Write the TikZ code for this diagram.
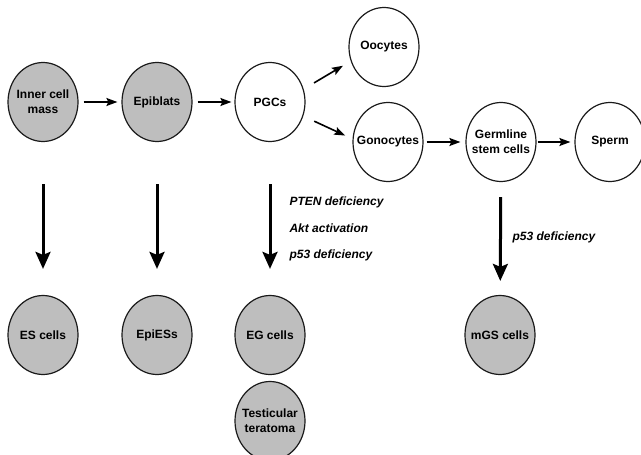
\documentclass[tikz,border=0pt]{standalone}
\usepackage{tikz}
\usetikzlibrary{shapes.geometric, arrows.meta}
\usepackage{xcolor}
\usepackage{fontspec}
\setmainfont{Liberation Sans}
\definecolor{CellGray}{HTML}{BEBEBE}
\definecolor{CellLine}{HTML}{1A1A1A}

\begin{document}
\begin{tikzpicture}[x=1pt, y=-1pt, font=\bfseries\fontsize{12}{15}\selectfont,
    cell/.style={ellipse, draw=CellLine, line width=1.2pt, fill=white, minimum width=70pt, minimum height=79pt, inner xsep=-9pt, inner ysep=0pt, align=center},
    derived/.style={cell, fill=CellGray},
    arr/.style={-{Stealth[length=11pt, width=8pt, inset=2pt]}, line width=1.6pt},
    bigarr/.style={-{Stealth[length=17pt, width=15pt, inset=3pt]}, line width=3pt},
    cond/.style={anchor=west, font=\bfseries\itshape\fontsize{12}{15}\selectfont}]
                \useasboundingbox (0,0) rectangle (641,455);
                % Flow
                \node[derived] (icm) at (43,102) {Inner cell\\mass};
                \node[derived] (epi) at (157,102) {Epiblats};
                \node[cell] (pgc) at (270,102) {PGCs};
                \node[cell] (ooc) at (384,47) {Oocytes};
                \node[cell] (gono) at (388,142) {Gonocytes};
                \node[cell] (gsc) at (501,142) {Germline\\stem cells};
                \node[cell] (sperm) at (610,142) {Sperm};
                
                \draw[arr, shorten <=5pt, shorten >=4pt] (icm) -- (epi);
                \draw[arr, shorten <=5pt, shorten >=3pt] (epi) -- (pgc);
                \draw[arr, shorten <=12pt, shorten >=9pt] (pgc.21) -- (ooc.203);
                \draw[arr, shorten <=12pt, shorten >=8pt] (pgc.-23) -- (gono.175);
                \draw[arr, shorten <=3pt, shorten >=5pt] (gono) -- (gsc);
                \draw[arr, shorten <=1pt, shorten >=4pt] (gsc) -- (sperm);
                
                % Derived cells
                \node[derived] (es) at (43,335) {ES cells};
                \node[derived] (epies) at (157,335) {EpiESs};
                \node[derived] (eg) at (270,335) {EG cells};
                \node[derived] (terat) at (270,421) {Testicular\\teratoma};
                \node[derived] (mgs) at (500,335) {mGS cells};
                
                \draw[bigarr, shorten <=42pt, shorten >=26pt] (icm) -- (es);
                \draw[bigarr, shorten <=42pt, shorten >=26pt] (epi) -- (epies);
                \draw[bigarr, shorten <=42pt, shorten >=26pt] (pgc) -- (eg);
                \draw[bigarr, shorten <=15pt, shorten >=14pt] (gsc) -- (mgs);
                
                % Labels
                \node[cond] (pten) at (286,202) {PTEN deficiency};
                \node[cond] (akt) at (286,228) {Akt activation};
                \node[cond] (pfirst) at (286,255) {p53 deficiency};
                \node[cond] (psecond) at (509,237) {p53 deficiency};
            \end{tikzpicture}
\end{document}
